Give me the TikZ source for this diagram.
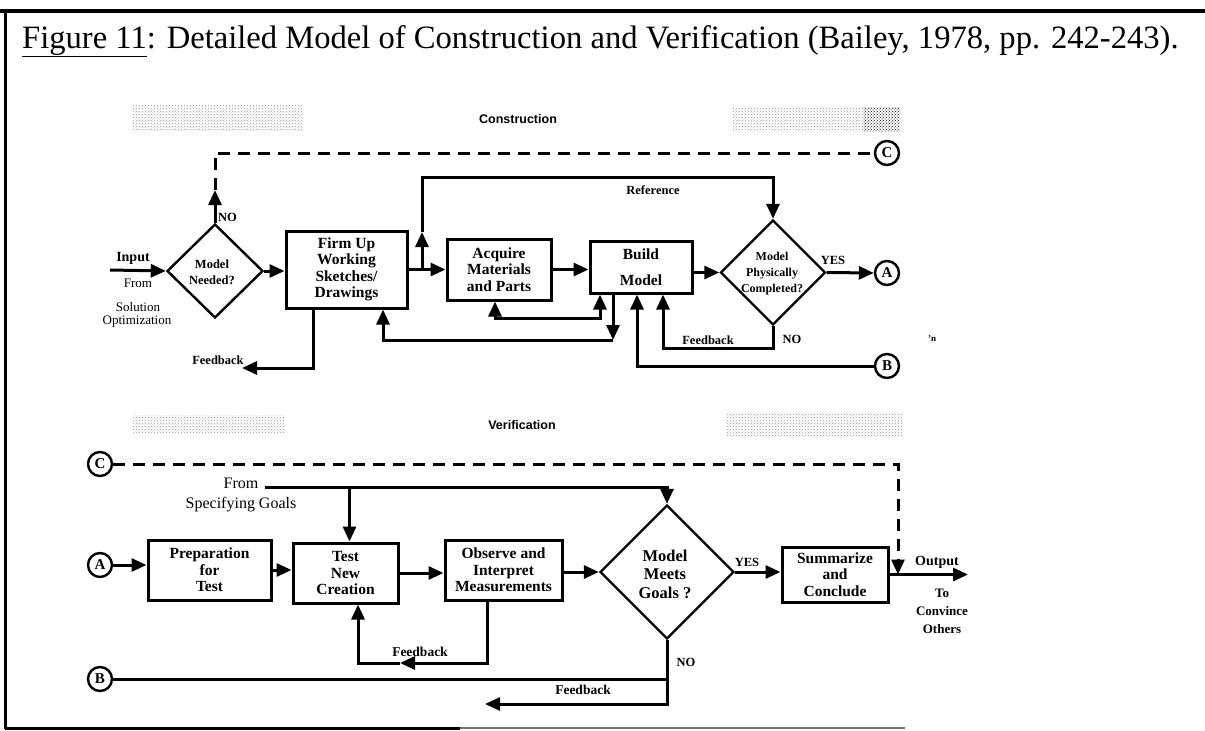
\documentclass[tikz,border=0pt]{standalone}
\usepackage{fontspec}
\setmainfont{Liberation Serif}
\setsansfont{Liberation Sans}
\usetikzlibrary{arrows.meta,shapes.geometric,patterns}

\begin{document}
\begin{tikzpicture}[x=1pt,y=-1pt,
  ln/.style={line width=3pt},
  arr/.style={ln,-{Triangle[length=15pt,width=13pt]}},
  darr/.style={ln,{Triangle[length=15pt,width=13pt]}-{Triangle[length=15pt,width=13pt]}},
  dline/.style={line width=3pt,dash pattern=on 12pt off 8pt},
  procbox/.style={draw,line width=3pt,inner sep=0pt,align=center,
    font=\fontsize{15.5}{16.5}\selectfont\bfseries},
  dia/.style={diamond,draw,line width=2.4pt,inner sep=0pt},
  conn/.style={circle,draw,line width=2.4pt,minimum size=24pt,inner sep=0pt,
    font=\fontsize{15}{15}\selectfont\bfseries},
  st/.style={font=\fontsize{12.5}{16}\selectfont\bfseries,align=center,inner sep=0pt},
  rt/.style={font=\fontsize{13}{14}\selectfont,align=center,inner sep=0pt},
  hd/.style={font=\sffamily\bfseries\fontsize{12.5}{14}\selectfont,inner sep=0pt},
  noise/.style={pattern=crosshatch dots,pattern color=black!40}
]
\useasboundingbox (0,0) rectangle (1205,731);

% frame
\draw[line width=3.5pt] (0,11) -- (1205,11);
\draw[line width=3pt] (5,11) -- (5,729);
\draw[line width=3pt] (5,728) -- (460,728);
\draw[line width=1.2pt,black!55] (460,728) -- (905,728);

% title
\node[anchor=base west,inner sep=0pt,font=\fontsize{32.6}{36}\selectfont] (title) at (22,48)
  {\underline{Figure 11}: Detailed Model of Construction and Verification (Bailey, 1978, pp. 242-243).};

% screened (grey) strips beside the section headings
\fill[noise] (133,105) rectangle (303,130);
\fill[noise] (733,107) rectangle (900,131);
\fill[pattern=crosshatch dots,pattern color=black!85] (863,107) rectangle (900,131);
\fill[noise] (133,415) rectangle (285,432);
\fill[noise] (727,413) rectangle (903,436);

% ---------------- Construction ----------------
\node[hd] (lcon) at (518,119) {Construction};

\node[dia,minimum width=96pt,minimum height=94pt] (need) at (215,271) {};
\node[st] (needT) at (212,272) {Model\\Needed?};
\node[procbox,minimum width=121pt,minimum height=77pt] (firm) at (346.5,269.5)
  {Firm Up\\Working\\Sketches/\\Drawings};
\node[procbox,minimum width=104pt,minimum height=61pt] (acq) at (499,269.5)
  {Acquire\\Materials\\and Parts};
\node[procbox,minimum width=102pt,minimum height=52pt] (build) at (641,267)
  {Build\\[10pt]Model};
\node[dia,minimum width=105pt,minimum height=105pt] (d2) at (773,272.5) {};
\node[st,font=\fontsize{12}{16}\selectfont\bfseries] (d2T) at (772,274) {Model\\Physically\\Completed?};

\node[conn] (C1) at (887,153) {C};
\node[conn] (A1) at (887,273) {A};
\node[conn] (B1) at (887,366) {B};

\node[st,font=\fontsize{14}{16}\selectfont\bfseries] (lin) at (133,258) {Input};
\node[rt] (lfrom1) at (138,283) {From};
\node[rt] (lsol) at (138,307) {Solution};
\node[rt] (lopt) at (137,322) {Optimization};
\node[st,anchor=west] (lno1) at (218,217) {NO};
\node[st] (lfb1) at (218,360) {Feedback};
\node[st] (lref) at (653,190) {Reference};
\node[st] (lyes1) at (833,260) {YES};
\node[st] (lno2) at (792,339) {NO};
\node[st] (lfb2) at (708,340) {Feedback};
\node[st,font=\fontsize{9}{9}\selectfont\bfseries] (lmark) at (932,339) {'n};

\coordinate (inp) at (110,270);
\coordinate (noTip) at (215,190);
\coordinate (j1) at (422,269.5);
\coordinate (refUp) at (422,232);
\coordinate (refTop) at (422,177);
\coordinate (bdn) at (613,340);
\coordinate (fbNo) at (773,348);
\coordinate (fbA) at (242,368);
\coordinate (fbB) at (600,318);

\draw[arr] (inp) -- (need.west);
\draw[arr] (need.east) -- (need.east -| firm.west);
\draw[arr] (need.north) -- (noTip);
\draw[dline] (noTip) |- (C1.west);
\draw[arr] (firm.east) -- (acq.west);
\draw[arr] (j1) -- (refUp);
\draw[arr] (refUp) -- (refTop) -| (d2.north);
\draw[arr] (acq.east) -- (acq.east -| build.west);
\draw[arr] (build.east |- d2.west) -- (d2.west);
\draw[arr] (d2.east) -- (A1.west);
\draw[arr] (d2.south) -- (fbNo) -| ([xshift=22pt]build.south);
\draw[arr] (B1.west) -| ([xshift=-4pt]build.south);
\draw[arr] ([xshift=-28pt]build.south) -- (bdn);
\draw[arr] (bdn) -| ([xshift=36.5pt]firm.south);
\draw[darr] ([xshift=-4pt]acq.south) |- (fbB) -- ([xshift=-41pt]build.south);
\draw[arr] ([xshift=-33.5pt]firm.south) |- (fbA);

% ---------------- Verification ----------------
\node[hd] (lver) at (522,425) {Verification};

\node[procbox,minimum width=123pt,minimum height=60pt] (prep) at (209.5,570)
  {Preparation\\for\\Test};
\node[procbox,minimum width=105pt,minimum height=60pt] (test) at (345.5,573)
  {Test\\New\\Creation};
\node[procbox,minimum width=117pt,minimum height=60pt] (obs) at (503.5,570)
  {Observe and\\Interpret\\Measurements};
\node[dia,minimum width=134pt,minimum height=134pt] (d3) at (667,572) {};
\node[procbox,draw=none,font=\fontsize{16.5}{18.5}\selectfont\bfseries] (d3T) at (665,574)
  {Model\\Meets\\Goals ?};
\node[procbox,minimum width=106pt,minimum height=55pt] (summ) at (835,574.5)
  {Summarize\\and\\Conclude};

\node[conn] (C2) at (100,464) {C};
\node[conn] (A2) at (100,565) {A};
\node[conn] (B2) at (100,679) {B};

\node[rt,font=\fontsize{16}{20}\selectfont] (lfrom2) at (241,495) {From\\Specifying Goals};
\node[st] (lyes2) at (747,562) {YES};
\node[st,font=\fontsize{14}{16}\selectfont\bfseries] (lout) at (937,562) {Output};
\node[st,font=\fontsize{13}{18}\selectfont\bfseries] (lconv) at (942,611) {To\\Convince\\Others};
\node[st,font=\fontsize{13.5}{16}\selectfont\bfseries] (lfb3) at (420,652) {Feedback};
\node[st] (lno3) at (686,662) {NO};
\node[st,font=\fontsize{13.5}{16}\selectfont\bfseries] (lfb4) at (583,690) {Feedback};

\coordinate (outj) at (898,574.5);
\coordinate (outEnd) at (968,574.5);
\coordinate (fromS) at (265,487);
\coordinate (fbT) at (400,663);
\coordinate (fbV) at (485,704);
\coordinate (bJoin) at (667,679);

\draw[dline,-{Triangle[length=15pt,width=13pt]}] (C2.east) -| (outj);
\draw[arr] (fromS) -| (d3.north);
\draw[arr] ([xshift=4pt]test.north |- fromS) -- ([xshift=4pt]test.north);
\draw[arr] (A2.east) -- (A2.east -| prep.west);
\draw[arr] (prep.east) -- (prep.east -| test.west);
\draw[arr] (test.east) -- (test.east -| obs.west);
\draw[arr] (obs.east |- d3.west) -- (d3.west);
\draw[arr] (d3.east) -- (d3.east -| summ.west);
\draw[arr] (summ.east) -- (outEnd);
\draw[arr] ([xshift=-16.5pt]obs.south) |- (fbT);
\draw[arr] (fbT) -| ([xshift=12.5pt]test.south);
\draw[arr] (d3.south) |- (fbV);
\draw[ln] (bJoin) -- (B2.east);

\end{tikzpicture}
\end{document}
